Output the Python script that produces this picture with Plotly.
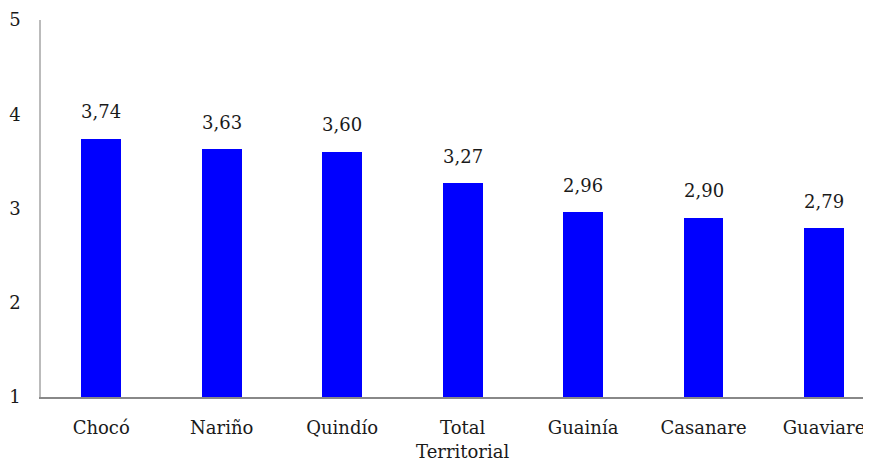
import plotly.graph_objects as go

categories = ["Chocó", "Nariño", "Quindío", "Total<br>Territorial", "Guainía", "Casanare", "Guaviare"]
values = [3.74, 3.63, 3.60, 3.27, 2.96, 2.90, 2.79]
y_ticks = [1, 2, 3, 4, 5]

FONT = "DejaVu Serif"
SIZE = 18

fig = go.Figure()
fig.add_trace(go.Bar(
    x=list(range(len(categories))), y=values, base=0,
    marker=dict(color="#0000FF", line=dict(width=0)),
    width=0.33,
))

for i, v in enumerate(values):
    fig.add_annotation(
        x=i, y=v, text=f"{v:.2f}".replace(".", ","),
        showarrow=False, yshift=27, yanchor="middle",
        font=dict(family=FONT, size=SIZE, color="#1a1a1a"),
    )

# page body adds an 8px offset, so the figure is 863x456 and margins are reduced by 8
fig.update_layout(
    width=863, height=456,
    margin=dict(l=33, r=0, t=12, b=67),
    plot_bgcolor="white", paper_bgcolor="white",
    showlegend=False,
    font=dict(family=FONT, size=SIZE, color="#1a1a1a"),
    bargap=0,
)
fig.update_xaxes(
    range=[-0.5, 6.39], automargin=False,
    tickmode="array", tickvals=list(range(len(categories))), ticktext=categories,
    showline=True, linecolor="#888888", linewidth=1.5,
    showgrid=False, ticks="", ticklabelstandoff=14,
    tickfont=dict(family=FONT, size=SIZE),
)
fig.update_yaxes(
    range=[1, 5], tickvals=y_ticks, automargin=False,
    showline=True, linecolor="#bbbbbb", linewidth=1.5,
    showgrid=False, zeroline=False, ticks="", ticklabelstandoff=15,
    tickfont=dict(family=FONT, size=SIZE),
)

fig.write_html("out.html")
